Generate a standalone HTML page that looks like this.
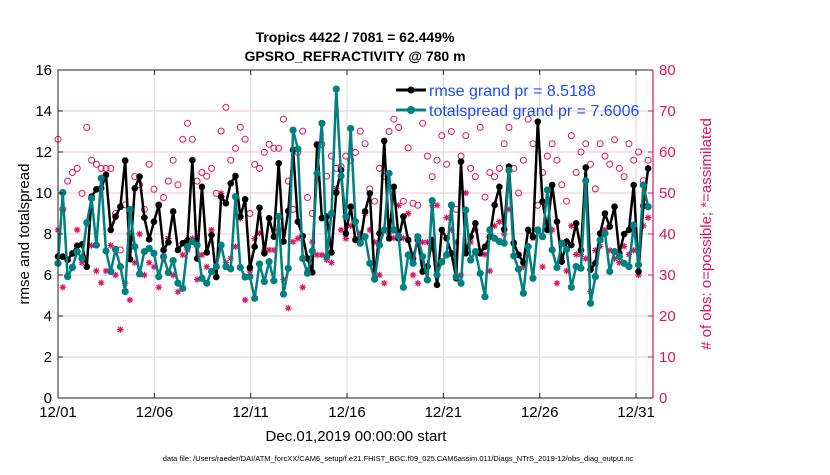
<!DOCTYPE html>
<html><head><meta charset="utf-8">
<style>
body{margin:0;background:#fff;}
svg text{font-family:"Liberation Sans",Arial,sans-serif;}
</style></head>
<body>
<svg id="chart" width="830" height="470" viewBox="0 0 830 470" xmlns="http://www.w3.org/2000/svg">
<text x="355" y="42" text-anchor="middle" font-size="14" font-weight="bold">Tropics 4422 / 7081 = 62.449%</text>
<text x="355" y="61" text-anchor="middle" font-size="14" font-weight="bold">GPSRO_REFRACTIVITY @ 780 m</text>
<g id="grid"></g>
<g id="marks"></g>
<g id="axes"></g>
<text transform="translate(29,234) rotate(-90)" text-anchor="middle" font-size="15">rmse and totalspread</text>
<text transform="translate(711,234) rotate(-90)" text-anchor="middle" font-size="15" fill="#dc1464"># of obs: o=possible; *=assimilated</text>
<text x="356" y="441" text-anchor="middle" font-size="15">Dec.01,2019 00:00:00 start</text>
<text x="398" y="461" text-anchor="middle" font-size="7.5">data file: /Users/raeder/DAI/ATM_forcXX/CAM6_setup/f.e21.FHIST_BGC.f09_025.CAM6assim.011/Diags_NTrS_2019-12/obs_diag_output.nc</text>
<g>
  <line x1="396" y1="90" x2="426" y2="90" stroke="#000" stroke-width="3"/>
  <circle cx="411" cy="90" r="3.5" fill="#000"/>
  <text x="429" y="96" font-size="16" fill="#1a4cff">rmse grand pr = 8.5188</text>
  <line x1="396" y1="110" x2="426" y2="110" stroke="#008080" stroke-width="3"/>
  <circle cx="411" cy="110" r="4" fill="#008080"/>
  <text x="429" y="116" font-size="16" fill="#1a4cff">totalspread grand pr = 7.6006</text>
</g>
</svg>
<script>
const xTickLabels = ["12/01","12/06","12/11","12/16","12/21","12/26","12/31"];
const xTickDays = [0,5,10,15,20,25,30];
const yTicks = [0,2,4,6,8,10,12,14,16];
const y2Ticks = [0,10,20,30,40,50,60,70,80];
const rmse = [6.9,6.9,6.74,7.05,7.43,7.49,6.4,9.82,10.18,10.23,10.88,8.2,8.85,9.33,11.58,6.77,10.23,10.8,8.8,7.74,8.6,9.4,7.22,7.6,9.1,7.22,7.55,7.7,11.6,6.8,10.3,7.1,7.95,
5.9,9.82,9.5,10.47,10.83,8.85,9.69,6.36,7.38,9.28,7.06,8.77,7.87,11.45,7.63,9.12,12.1,8.6,7.9,6.81,6.13,12.34,8.77,8.85,7.1,10.02,11.12,8.03,9.33,7.71,7.55,
9.1,9.98,5.84,8.03,12.54,7.79,10.3,7.79,8.85,7.71,6.81,7.71,6.17,6.41,7.71,5.52,8.2,7.79,7.06,5.84,11.53,7.06,7.87,8.52,7.06,7.38,7.87,9.41,10.3,8.23,11.29,
7.55,6.98,6.61,8.2,7.87,13.48,9.58,8.2,10.39,8.6,6.65,7.63,7.46,8.52,7.22,11.24,6.26,6.57,8.03,9.0,8.36,9.33,7.06,8.0,8.2,10.39,6.17,9.37,11.2];
const spread = [6.57,10.02,5.92,6.37,7.14,6.81,8.55,9.74,7.46,10.72,7.17,6.17,7.25,6.41,5.19,9.2,7.38,6.05,7.14,7.3,7.06,5.92,6.9,6.12,6.7,5.6,5.35,7.38,7.63,7.46,5.84,5.6,6.17,
6.41,7.46,6.41,6.3,9.82,6.37,5.9,5.92,4.86,6.54,5.68,6.65,5.72,8.85,5.07,6.33,13.07,12.14,6.81,6.08,7.17,10.96,13.4,6.9,9.0,15.07,10.83,8.85,13.15,8.6,7.55,
7.87,6.57,5.79,7.46,8.2,10.96,8.2,7.9,5.4,6.98,6.57,7.87,6.9,5.76,9.63,6.0,6.65,6.98,9.41,5.92,5.6,9.17,6.73,7.14,6.08,4.94,8.2,7.79,7.63,7.55,11.12,
6.93,6.28,5.11,7.38,5.84,8.2,7.87,10.15,7.22,6.37,7.55,7.25,5.4,6.41,6.33,10.6,4.62,5.92,7.71,8.03,6.17,7.14,6.9,6.57,6.41,8.44,6.49,10.39,9.33];
const possible = [63.1,46,52.9,55,56,49.9,66,58,57,56,56,56,45,36.1,47.1,40,54,52,46,57,50.9,47.1,48.9,52.9,58,52,63.1,67,63.1,52.9,55,54.1,56,
49.9,65.1,70.9,58,60.9,66,63.1,45,57,56,59.9,61.9,60.9,60.9,68,52.9,46,59.9,65.1,48.9,45,61.9,61.9,54.1,59,56,56.4,59,58,59.9,65.1,
62,51,48,56,54,65,68,66,48,61,47.5,47,67,59,54,58,64,57,65,46,59,64,56,54,66,49,55,54,56,62,66,
56,50,58,68,62,47,55,59,62,58,52,48,64,55,60,62,57,51,62,59,57,63,56,54,62,58,60,53,58];
const assimilated = [41,27,30,32,41,33,42.8,37.2,31,28.1,31,37.2,30,16.7,28,23.9,33,40,30,33,32,27,34.1,38.9,30,25.9,34.9,36.1,38.9,28.9,34.9,32,41,
31.9,49.9,33,34.1,36.9,43.8,23.9,31,38.9,40.2,36.1,36.1,36.1,41,28.9,21.9,38.1,38.9,27,31,38.1,34.9,34.9,33.7,33,51.1,41,38.9,42,38.9,40.2,
45,41,38,30,28,40,39,47,39,45,30,28,38,38,47,47,33,44,41,38,30,50,38,41,36,35,31,42,43,40,46,
38,35,32,37,39,41,32,41,41,28,34,31,42,35,35,34,26,36,37,41,36,34,33,37,35,36,30,42,44];

const X0=58,X1=653,YT=70,YB=398,DAYMAX=30.88;
const NS="http://www.w3.org/2000/svg";
function xs(d){return X0+(d/DAYMAX)*(X1-X0);}
function ys(v){return YB-(v/16)*(YB-YT);}
function ys2(v){return YB-(v/80)*(YB-YT);}
function mk(tag,attrs,parent){const e=document.createElementNS(NS,tag);for(const k in attrs)e.setAttribute(k,attrs[k]);parent.appendChild(e);return e;}
const grid=document.getElementById('grid'),marks=document.getElementById('marks'),axes=document.getElementById('axes');

yTicks.forEach(v=>{
  const l=mk('line',{x1:X0,x2:X1,y1:ys(v),y2:ys(v),stroke:'#f2c6d6','stroke-width':1},grid);
  
  
  const t=mk('text',{x:X0-6,y:ys(v)+5,'text-anchor':'end','font-size':15},axes);
  t.textContent=v;
  
  
  mk('line',{x1:X0,x2:X0+5,y1:ys(v),y2:ys(v),stroke:'#222'},axes);
});
y2Ticks.forEach(v=>{
  const t=mk('text',{x:X1+6,y:ys2(v)+5,'font-size':15,fill:'#dc1464'},axes);
  t.textContent=v;
  
  
  mk('line',{x1:X1-5,x2:X1,y1:ys2(v),y2:ys2(v),stroke:'#dc1464'},axes);
});
xTickDays.forEach((d,i)=>{
  const l=mk('line',{x1:xs(d),x2:xs(d),y1:YT,y2:YB,stroke:'#dcdcdc','stroke-width':1},grid);
  
  
  const t=mk('text',{x:xs(d),y:YB+19,'text-anchor':'middle','font-size':15},axes);
  t.textContent=xTickLabels[i];
  
  
  mk('line',{x1:xs(d),x2:xs(d),y1:YB,y2:YB-5,stroke:'#222'},axes);
  mk('line',{x1:xs(d),x2:xs(d),y1:YT,y2:YT+5,stroke:'#222'},axes);
});
const frame=mk('path',{d:`M${X0},${YB}L${X0},${YT}L${X1},${YT}M${X0},${YB}L${X1},${YB}`,fill:'none',stroke:'#222','stroke-width':1},axes);


const rax=mk('line',{x1:X1,x2:X1,y1:YT,y2:YB,stroke:'#dc1464','stroke-width':1.2},axes);



function day(i){return i*0.249;}
possible.forEach((v,i)=>{
  const c=mk('circle',{cx:xs(day(i)),cy:ys2(v),r:3,fill:'none',stroke:'#dc1464','stroke-width':1},marks);
  
  
});
assimilated.forEach((v,i)=>{
  const cx=xs(day(i)),cy=ys2(v),s=3.2,d=2.3;
  const p=mk('path',{d:`M${cx-s},${cy}H${cx+s}M${cx},${cy-s}V${cy+s}M${cx-d},${cy-d}L${cx+d},${cy+d}M${cx-d},${cy+d}L${cx+d},${cy-d}`,stroke:'#dc1464','stroke-width':1.2,fill:'none'},marks);
  
  
});
function series(arr,color,r,name){
  const p=mk('polyline',{points:arr.map((v,i)=>xs(day(i))+','+ys(v)).join(' '),fill:'none',stroke:color,'stroke-width':2.5,'stroke-linejoin':'round'},marks);
  
  
  arr.forEach((v,i)=>{
    const c=mk('circle',{cx:xs(day(i)),cy:ys(v),r:r,fill:color},marks);
    
    
  });
}
series(rmse,'#000',3.3,'rmse');
series(spread,'#008080',3.6,'totalspread');
</script>
</body></html>
